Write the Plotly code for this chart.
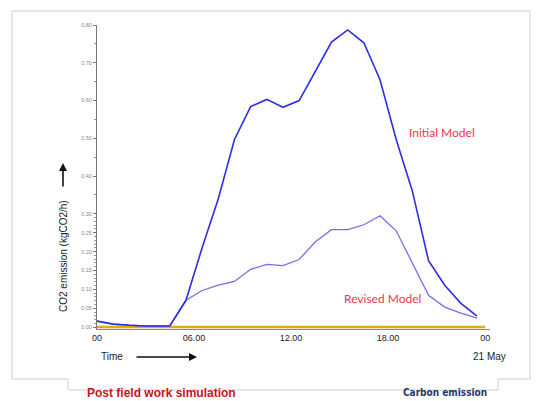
import plotly.graph_objects as go

# ---- data ----
hours = [0, 1, 2, 3, 4.5, 5.5, 6.5, 7.5, 8.5, 9.5, 10.5, 11.5, 12.5, 13.5,
         14.5, 15.5, 16.5, 17.5, 18.5, 19.5, 20.5, 21.5, 22.5, 23.5]
initial_model = [0.016, 0.008, 0.005, 0.003, 0.003, 0.071, 0.21, 0.34, 0.497, 0.584,
                 0.603, 0.582, 0.600, 0.676, 0.755, 0.787, 0.753, 0.655, 0.497,
                 0.36, 0.176, 0.111, 0.063, 0.029]
revised_model = [0.016, 0.008, 0.005, 0.003, 0.003, 0.071, 0.097, 0.111, 0.121, 0.153,
                 0.166, 0.163, 0.179, 0.226, 0.258, 0.258, 0.271, 0.295, 0.255,
                 0.168, 0.084, 0.053, 0.037, 0.024]
baseline_hours = [0, 24]
baseline_vals = [0, 0]

x_tick_vals = [0, 6, 12, 18, 24]
x_tick_text = ["00", "06.00", "12.00", "18.00", "00"]
y_tick_vals = [0, 0.05, 0.10, 0.15, 0.20, 0.25, 0.30, 0.40, 0.50, 0.60, 0.70, 0.80]
y_tick_text = ["0.00", "0.05", "0.10", "0.15", "0.20", "0.25", "0.30", "0.40",
               "0.50", "0.60", "0.70", "0.80"]
y_minor_vals = [i / 100 for i in range(1, 30) if i % 5] + [0.35, 0.45, 0.55, 0.65, 0.75]

OFF = 8  # page body margin
W, H = 541 - OFF, 401 - OFF
L, T = 97 - OFF, 25 - OFF
R = W - (490 - OFF)
B = H - (329 - OFF)
pw, ph = W - L - R, H - T - B


def px(x):
    return (x - OFF - L) / pw


def py(y):
    return (H - B - (y - OFF)) / ph


fig = go.Figure()
fig.add_trace(go.Scatter(x=baseline_hours, y=baseline_vals, mode="lines",
                         line=dict(color="#E8A90C", width=2.5), hoverinfo="skip"))
fig.add_trace(go.Scatter(x=hours, y=revised_model, mode="lines", name="Revised Model",
                         line=dict(color="#6F6FF2", width=1.3)))
fig.add_trace(go.Scatter(x=hours, y=initial_model, mode="lines", name="Initial Model",
                         line=dict(color="#2D2DE6", width=1.6)))

anns = [
    dict(x=px(442), y=py(132), text="Initial Model", font=dict(color="#EE3352", size=12, family="Lato")),
    dict(x=px(382), y=py(298), text="Revised Model", font=dict(color="#EE3352", size=12, family="Lato")),
    dict(x=px(112), y=py(356), text="Time", font=dict(color="#222", size=10, family="Liberation Sans")),
    dict(x=px(508), y=py(356), text="21 May", xanchor="right", font=dict(color="#222", size=10, family="Liberation Sans")),
    dict(x=px(63), y=py(256), text="CO2 emission (kgCO2/h)", textangle=-90,
         font=dict(color="#222", size=10, family="Liberation Sans")),
    dict(x=px(85), y=py(393), text="<b>Post field work simulation</b>", xanchor="left",
         font=dict(color="#C4161C", size=12, family="Liberation Sans")),
    dict(x=px(445), y=py(392), text="<b>Carbon emission</b>",
         font=dict(color="#1F3A6E", size=10, family="DejaVu Sans Condensed, Liberation Sans, sans-serif")),
    # arrows
    dict(x=px(197), y=py(357), ax=-62, ay=0, axref="pixel", ayref="pixel",
         text="", showarrow=True, arrowhead=2, arrowsize=1, arrowwidth=1.6, arrowcolor="#111"),
    dict(x=px(63), y=py(163), ax=0, ay=25, axref="pixel", ayref="pixel",
         text="", showarrow=True, arrowhead=2, arrowsize=1, arrowwidth=1.6, arrowcolor="#111"),
]
for a in anns:
    a.setdefault("xref", "paper")
    a.setdefault("yref", "paper")
    a.setdefault("showarrow", False)
    a.setdefault("xanchor", "center")
    a.setdefault("yanchor", "middle")
fig.update_layout(annotations=anns)

border = (f"M {px(12)} {py(11)} L {px(530)} {py(11)} L {px(530)} {py(379)} "
          f"L {px(498)} {py(379)} L {px(498)} {py(390)} L {px(68)} {py(390)} "
          f"L {px(68)} {py(379)} L {px(12)} {py(379)} Z")
fig.add_shape(type="path", path=border, xref="paper", yref="paper",
              line=dict(color="#CFCFCF", width=1))

fig.update_xaxes(range=[0, 24.3], tickvals=x_tick_vals, ticktext=x_tick_text,
                 showgrid=False, zeroline=False, showline=True, linecolor="#888",
                 linewidth=1, ticks="", tickfont=dict(size=9, color="#222", family="Liberation Sans"))
fig.update_yaxes(range=[-0.005, 0.8], tickvals=y_tick_vals, ticktext=y_tick_text,
                 showgrid=False, zeroline=False, showline=True, linecolor="#777",
                 linewidth=1, ticks="outside", ticklen=3, tickcolor="#777",
                 tickfont=dict(size=5.5, color="#888", family="Liberation Sans"),
                 minor=dict(tickvals=y_minor_vals, ticks="outside", ticklen=2, tickcolor="#999"))

fig.update_layout(width=W, height=H, margin=dict(l=L, r=R, t=T, b=B),
                  paper_bgcolor="white", plot_bgcolor="white", showlegend=False)

fig.write_html("out.html")
